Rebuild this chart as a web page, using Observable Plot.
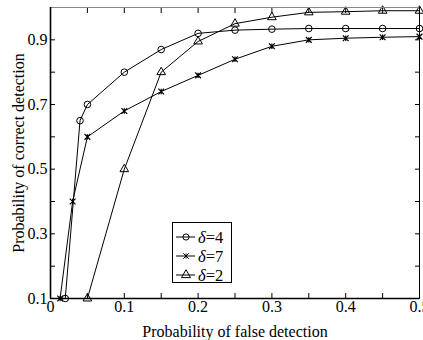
<!DOCTYPE html>
<html>
<head>
<meta charset="utf-8">
<script src="https://cdn.jsdelivr.net/npm/d3@7"></script>
<script src="https://cdn.jsdelivr.net/npm/@observablehq/plot@0.6"></script>
<style>
  html, body { margin: 0; padding: 0; background: #fff; }
  #wrap { position: relative; width: 423px; height: 340px; }
  #legend { position: absolute; left: 172px; top: 222px; width: 60px; height: 61px;
    border: 1.5px solid #000; background: #fff; box-sizing: border-box; }
</style>
</head>
<body>
<div id="wrap"></div>
<script>
// Data
const fp4 = [0.02, 0.04, 0.05, 0.1, 0.15, 0.2, 0.25, 0.3, 0.35, 0.4, 0.45, 0.5];
const pd4 = [0.1, 0.65, 0.70, 0.80, 0.87, 0.92, 0.93, 0.933, 0.935, 0.935, 0.935, 0.935];
const fp7 = [0.013, 0.03, 0.05, 0.1, 0.15, 0.2, 0.25, 0.3, 0.35, 0.4, 0.45, 0.5];
const pd7 = [0.1, 0.4, 0.6, 0.68, 0.74, 0.79, 0.84, 0.88, 0.9, 0.905, 0.908, 0.91];
const fp2 = [0.05, 0.1, 0.15, 0.2, 0.25, 0.3, 0.35, 0.4, 0.45, 0.5];
const pd2 = [0.1, 0.5, 0.8, 0.895, 0.95, 0.97, 0.985, 0.987, 0.99, 0.99];
const seriesNames = ["δ=4", "δ=7", "δ=2"];

const xTicks = [0, 0.05, 0.1, 0.15, 0.2, 0.25, 0.3, 0.35, 0.4, 0.45, 0.5];
const xTickLabels = ["0", "", "0.1", "", "0.2", "", "0.3", "", "0.4", "", "0.5"];
const yTicks = [0.1, 0.2, 0.3, 0.4, 0.5, 0.6, 0.7, 0.8, 0.9, 1.0];
const yTickLabels = ["0.1", "", "0.3", "", "0.5", "", "0.7", "", "0.9", ""];
const xLabel = "Probability of false detection";
const yLabel = "Probability of correct detection";

const FONT = "'Liberation Serif', 'Times New Roman', serif";

// MATLAB-like '*' marker: plus + cross
const star = {
  draw(context, size) {
    const r = Math.sqrt(size / Math.PI);
    const d = r * 0.8;
    context.moveTo(-d, -d); context.lineTo(d, d);
    context.moveTo(-d, d); context.lineTo(d, -d);
    context.moveTo(0, -r * 0.75); context.lineTo(0, r * 0.75);
  }
};
const symbols = [d3.symbolCircle, star, d3.symbolTriangle];

const mk = (xs, ys, s) => xs.map((x, i) => ({x, y: ys[i], s}));
const d4 = mk(fp4, pd4, seriesNames[0]);
const d7 = mk(fp7, pd7, seriesNames[1]);
const d2 = mk(fp2, pd2, seriesNames[2]);

const fmtX = d => xTickLabels[xTicks.findIndex(t => Math.abs(t - d) < 1e-9)] ?? "";
const fmtY = d => yTickLabels[yTicks.findIndex(t => Math.abs(t - d) < 1e-9)] ?? "";

const chart = Plot.plot({
  width: 423, height: 340,
  marginLeft: 50, marginRight: 4, marginTop: 7, marginBottom: 42,
  style: {fontFamily: FONT, fontSize: "16px", color: "#000", background: "#fff", overflow: "visible"},
  x: {domain: [0, 0.5]},
  y: {domain: [0.1, 1.0]},
  marks: [
    Plot.axisX({ticks: xTicks, tickFormat: fmtX, tickSize: -5, tickPadding: 7, fontSize: 16,
      label: null}),
    Plot.axisX({anchor: "top", ticks: xTicks, tickFormat: () => "", tickSize: -5, label: null}),
    Plot.axisY({ticks: yTicks, tickFormat: fmtY, tickSize: -5, tickPadding: 8, fontSize: 16,
      label: null}),
    Plot.axisY({anchor: "right", ticks: yTicks, tickFormat: () => "", tickSize: -5, label: null}),
    Plot.text([xLabel], {text: d => d, frameAnchor: "bottom", dy: 33, fontSize: 16, fill: "#000",
      lineAnchor: "middle", textAnchor: "middle"}),
    Plot.text([yLabel], {text: d => d, frameAnchor: "left", dx: -32, rotate: -90, fontSize: 16, fill: "#000",
      lineAnchor: "middle", textAnchor: "middle"}),
    Plot.line(d4, {x: "x", y: "y", stroke: "#000", strokeWidth: 1}),
    Plot.line(d7, {x: "x", y: "y", stroke: "#000", strokeWidth: 1}),
    Plot.line(d2, {x: "x", y: "y", stroke: "#000", strokeWidth: 1}),
    Plot.dot(d4, {x: "x", y: "y", symbol: () => symbols[0], r: 3.3, stroke: "#000", fill: "none", strokeWidth: 1}),
    Plot.dot(d7, {x: "x", y: "y", symbol: () => symbols[1], r: 3.6, stroke: "#000", fill: "none", strokeWidth: 1.2}),
    Plot.dot(d2, {x: "x", y: "y", symbol: () => symbols[2], r: 3.2, stroke: "#000", fill: "none", strokeWidth: 1}),
    Plot.ruleY([1.0], {stroke: "#888", strokeWidth: 1}),
    Plot.ruleX([0.5], {stroke: "#000", strokeWidth: 1}),
    Plot.ruleX([0], {stroke: "#000", strokeWidth: 1.6}),
    Plot.ruleY([0.1], {stroke: "#000", strokeWidth: 1.6})
  ]
});
document.getElementById("wrap").appendChild(chart);

// Legend
const legend = document.createElement("div");
legend.id = "legend";
document.getElementById("wrap").appendChild(legend);
const lsvg = d3.select(legend).append("svg").attr("width", 58).attr("height", 58)
  .style("position", "absolute").style("left", "0px").style("top", "0px").style("overflow", "visible");
seriesNames.forEach((name, i) => {
  const cy = 14 + i * 19;
  const g = lsvg.append("g");
  g.append("line").attr("x1", 3).attr("x2", 22).attr("y1", cy).attr("y2", cy).attr("stroke", "#000");
  g.append("path").attr("d", d3.symbol(symbols[i], i === 0 ? 30 : 36)())
    .attr("transform", `translate(13,${cy})`).attr("fill", "none").attr("stroke", "#000");
  const t = g.append("text").attr("x", 25).attr("y", cy + 5.5)
    .style("font-family", FONT).attr("font-size", 16.5);
  t.append("tspan").attr("font-style", "italic").text(name.slice(0, 1));
  t.append("tspan").text(name.slice(1));
});
</script>
</body>
</html>
